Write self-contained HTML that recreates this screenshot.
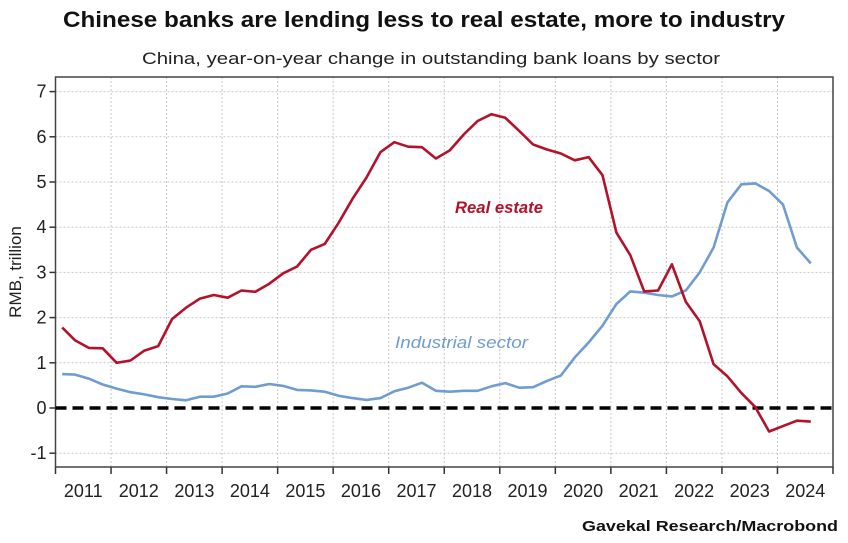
<!DOCTYPE html>
<html><head><meta charset="utf-8"><style>
html,body{margin:0;padding:0;background:#fff;}
svg{display:block;font-family:"Liberation Sans",sans-serif;}
</style></head><body>
<svg id="chart" width="848" height="543" viewBox="0 0 848 543" xmlns="http://www.w3.org/2000/svg">
<text x="424" y="27" text-anchor="middle" font-size="22" font-weight="bold" fill="#111" textLength="722" lengthAdjust="spacingAndGlyphs">Chinese banks are lending less to real estate, more to industry</text>
<text x="431" y="64" text-anchor="middle" font-size="17" fill="#222" textLength="578" lengthAdjust="spacingAndGlyphs">China, year-on-year change in outstanding bank loans by sector</text>
<text transform="translate(21,272) rotate(-90)" text-anchor="middle" font-size="17" fill="#222">RMB, trillion</text>
<text x="838" y="531" text-anchor="end" font-size="15" font-weight="bold" fill="#111" textLength="256" lengthAdjust="spacingAndGlyphs">Gavekal Research/Macrobond</text>
<g id="grid"></g>
<g id="axes"></g>
<g id="series"></g>
<text x="455" y="213" font-size="17" font-style="italic" font-weight="bold" fill="#b3122a" textLength="88" lengthAdjust="spacingAndGlyphs">Real estate</text>
<text x="395" y="348" font-size="17" font-style="italic" fill="#6f9dd0" textLength="133" lengthAdjust="spacingAndGlyphs">Industrial sector</text>
</svg>
<script>
const years = ["2011","2012","2013","2014","2015","2016","2017","2018","2019","2020","2021","2022","2023","2024"];
const yTicks = [-1,0,1,2,3,4,5,6,7];
const tPoints = [0.12,0.35,0.6,0.85,1.1,1.35,1.6,1.85,2.1,2.35,2.6,2.85,3.1,3.35,3.6,3.85,4.1,4.35,4.6,4.85,5.1,5.35,5.6,5.85,6.1,6.35,6.6,6.85,7.1,7.35,7.6,7.85,8.1,8.35,8.6,8.85,9.1,9.35,9.6,9.85,10.1,10.35,10.6,10.85,11.1,11.35,11.6,11.85,12.1,12.35,12.6,12.85,13.1,13.35,13.6];
const realEstate = [1.78,1.5,1.33,1.32,1.0,1.05,1.27,1.37,1.97,2.22,2.42,2.5,2.44,2.6,2.57,2.75,2.98,3.13,3.5,3.63,4.1,4.63,5.1,5.66,5.88,5.78,5.77,5.52,5.7,6.05,6.35,6.5,6.42,6.13,5.83,5.72,5.63,5.48,5.55,5.15,3.88,3.38,2.58,2.6,3.18,2.35,1.92,0.97,0.7,0.33,0.02,-0.52,-0.4,-0.28,-0.3];
const industrial = [0.75,0.74,0.65,0.52,0.43,0.35,0.3,0.24,0.2,0.17,0.25,0.25,0.32,0.48,0.47,0.53,0.49,0.4,0.39,0.36,0.27,0.22,0.18,0.22,0.37,0.45,0.56,0.38,0.36,0.38,0.38,0.48,0.55,0.45,0.46,0.6,0.72,1.12,1.45,1.82,2.3,2.58,2.55,2.5,2.47,2.6,3.0,3.55,4.55,4.95,4.97,4.8,4.5,3.55,3.2];

const L=55.5,R=833,T=77,B=467;
const yearW=(R-L)/years.length;
const xs=t=>L+t*yearW;
const ys=v=>408-v*45.2;
const NS="http://www.w3.org/2000/svg";
function mk(tag,attrs,parent){const e=document.createElementNS(NS,tag);for(const k in attrs)e.setAttribute(k,attrs[k]);parent.appendChild(e);return e;}
const grid=document.getElementById('grid'),axes=document.getElementById('axes'),series=document.getElementById('series');

yTicks.forEach(v=>{
  if(v!==0){const g=mk('line',{x1:L,x2:R,y1:ys(v),y2:ys(v),stroke:'#c8c8c8','stroke-width':1,'stroke-dasharray':'2,2'},grid);
  
  }
  const tk=mk('line',{x1:L-6,x2:L,y1:ys(v),y2:ys(v),stroke:'#333','stroke-width':1.5},axes);
  
  
  const lb=mk('text',{x:L-9,y:ys(v)+6,'text-anchor':'end','font-size':18,fill:'#222'},axes);
  lb.textContent=String(v);
  
  
});
years.forEach((yr,i)=>{
  if(i>0){const g=mk('line',{x1:xs(i),x2:xs(i),y1:T,y2:B,stroke:'#c8c8c8','stroke-width':1,'stroke-dasharray':'2,2'},grid);
  
  }
  const tk=mk('line',{x1:xs(i),x2:xs(i),y1:B,y2:B+7,stroke:'#333','stroke-width':1.5},axes);
  
  
  const lb=mk('text',{x:xs(i+0.5),y:B+30,'text-anchor':'middle','font-size':18,fill:'#222'},axes);
  lb.textContent=yr;
  
  
});
const fr=mk('path',{d:`M${L},${T}H${R}V${B}H${L}Z`,fill:'none',stroke:'#444','stroke-width':1.5},axes);


const endTick=mk('line',{x1:R,x2:R,y1:B,y2:B+7,stroke:'#333','stroke-width':1.5},axes);


const zl=mk('line',{x1:L,x2:R,y1:ys(0),y2:ys(0),stroke:'#000','stroke-width':3.5,'stroke-dasharray':'11,6'},series);


function line(vals,color,name){
  const d=vals.map((v,i)=>(i?'L':'M')+xs(tPoints[i]).toFixed(1)+','+ys(v).toFixed(1)).join('');
  const p=mk('path',{d:d,fill:'none',stroke:color,'stroke-width':2.6,'stroke-linejoin':'round'},series);
  
  
}
line(industrial,'#6f9dd0','industrial-sector-line');
line(realEstate,'#b3122a','real-estate-line');
</script>
</body></html>
